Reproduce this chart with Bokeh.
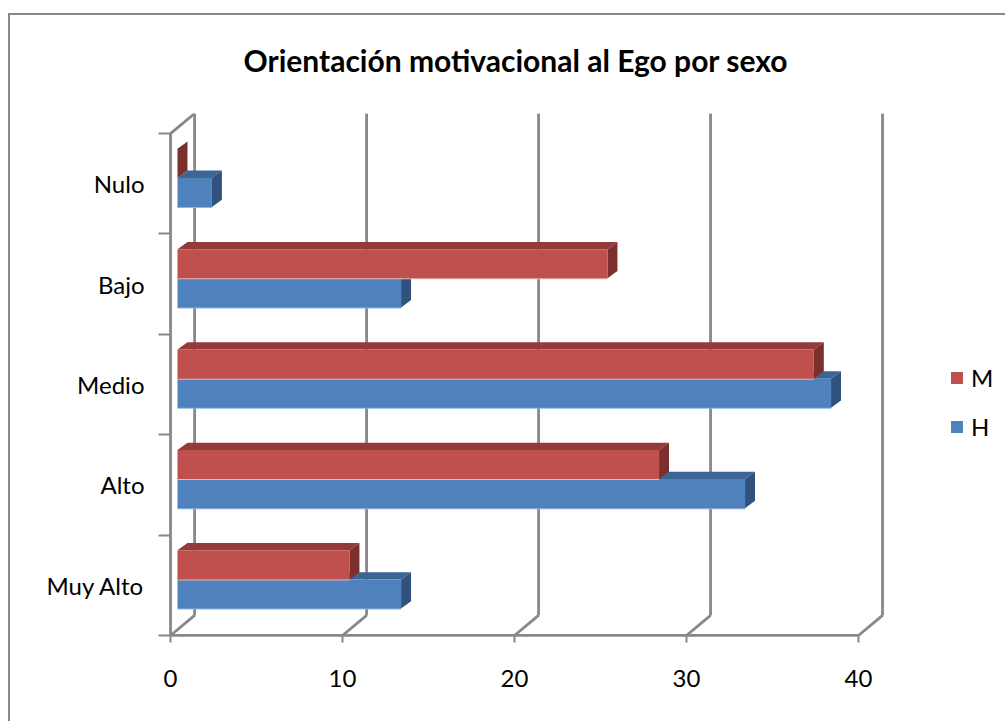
from bokeh.plotting import figure
from bokeh.models import (ColumnDataSource, Range1d, FixedTicker, Legend,
                          LegendItem, InlineStyleSheet)
from bokeh.embed import file_html
from bokeh.resources import INLINE

# ---- data -------------------------------------------------------------
categories = ["Muy Alto", "Alto", "Medio", "Bajo", "Nulo"]
hombres = [13, 33, 38, 13, 2]    # series "H"
mujeres = [10, 28, 37, 25, 0]    # series "M"
x_ticks = [0, 10, 20, 30, 40]
title_text = "Orientación motivacional al Ego  por sexo"

# ---- 3-D look (all in data units) --------------------------------------
DX, DY = 1.4, 0.2        # depth of floor / side wall
F0 = 0.29                # where the bars sit inside that depth
BX, BY = 0.58, 0.073     # thickness of a bar in depth
HALF = 0.29              # height of one bar
# the frame reaches the right edge so the legend can live inside it
X_MIN, X_MAX = -0.35, 48.55
Y_MIN, Y_MAX = -0.07, 5.2

GRID = "#888888"
FONT = "Lato"
LABEL_SIZE = "24px"

p = figure(width=1005, height=721,
           x_range=Range1d(X_MIN, X_MAX), y_range=Range1d(Y_MIN, Y_MAX),
           output_backend="svg", toolbar_location=None,
           min_border_left=164, min_border_right=0,
           min_border_top=113, min_border_bottom=79)
p.outline_line_color = None
p.xgrid.visible = False
p.ygrid.visible = False
p.background_fill_color = "white"
p.border_fill_color = "white"

# chart-area frame line (left and top edges)
p.stylesheets = [InlineStyleSheet(css="""
:host { position: relative; }
:host::after {
  content: ""; position: absolute; left: 8px; top: 13px; right: 0; bottom: 0;
  border-left: 2px solid #888888; border-top: 2px solid #888888;
  pointer-events: none;
}
""")]

# ---- title --------------------------------------------------------------
p.title.text = title_text
p.title.align = "left"
p.title.offset = 243 - 164
p.title.standoff = 71
p.title.text_font = FONT
p.title.text_font_style = "bold"
p.title.text_font_size = "30px"
p.title.text_color = "black"

# ---- axes ---------------------------------------------------------------
xa = p.xaxis[0]
xa.ticker = FixedTicker(ticks=x_ticks, minor_ticks=[])
xa.axis_line_color = None
xa.major_tick_in = 7
xa.major_tick_out = 0
xa.major_tick_line_color = GRID
xa.major_tick_line_width = 2
xa.major_label_standoff = 27
xa.major_label_text_font = FONT
xa.major_label_text_font_size = LABEL_SIZE
xa.major_label_text_color = "black"

n = len(categories)
ya = p.yaxis[0]
centers = [i + 0.5 for i in range(n)]
ya.ticker = FixedTicker(ticks=centers, minor_ticks=list(range(n + 1)))
ya.major_label_overrides = {c: name for c, name in zip(centers, categories)}
ya.axis_line_color = None
ya.major_tick_line_color = None
ya.major_tick_in = 0
ya.major_tick_out = 6
ya.minor_tick_in = 6
ya.minor_tick_out = 6
ya.minor_tick_line_color = GRID
ya.minor_tick_line_width = 2
ya.major_label_standoff = 14
ya.major_label_text_font = FONT
ya.major_label_text_font_size = LABEL_SIZE
ya.major_label_text_color = "black"

# ---- walls, floor and gridlines ----------------------------------------
x0s, y0s, x1s, y1s = [], [], [], []
for t in x_ticks:
    # back wall gridline
    x0s.append(t + DX); y0s.append(DY); x1s.append(t + DX); y1s.append(Y_MAX)
    # floor diagonal
    x0s.append(t); y0s.append(0); x1s.append(t + DX); y1s.append(DY)
# front floor edge, front left edge, top of the side wall
x0s += [0, 0, 0]
y0s += [0, 0, n]
x1s += [x_ticks[-1], 0, DX]
y1s += [0, n, n + DY]
p.segment(x0=x0s, y0=y0s, x1=x1s, y1=y1s, line_color=GRID, line_width=2.8)


# ---- 3-D bars -----------------------------------------------------------
def bar_geometry(values, upper):
    front = dict(left=[], right=[], bottom=[], top=[])
    tops = dict(xs=[], ys=[])
    sides = dict(xs=[], ys=[])
    edge = dict(x0=[], x1=[], y=[])
    for i, v in enumerate(values):
        l = F0 * DX
        r = l + v
        c = i + 0.5 + F0 * DY
        b, t = (c, c + HALF) if upper else (c - HALF, c)
        front["left"].append(l); front["right"].append(r)
        front["bottom"].append(b); front["top"].append(t)
        tops["xs"].append([l, r, r + BX, l + BX])
        tops["ys"].append([t, t, t + BY, t + BY])
        sides["xs"].append([r, r, r + BX, r + BX])
        sides["ys"].append([b, t, t + BY, b + BY])
        edge["x0"].append(l); edge["x1"].append(r); edge["y"].append(b)
    return front, tops, sides, edge


def draw_bars(values, upper, c_front, c_top, c_side, c_edge):
    front, tops, sides, edge = bar_geometry(values, upper)
    p.segment(x0=edge["x0"], y0=edge["y"], x1=edge["x1"], y1=edge["y"],
              line_color=c_edge, line_width=2)
    p.patches(xs=tops["xs"], ys=tops["ys"], fill_color=c_top, line_color=None)
    p.patches(xs=sides["xs"], ys=sides["ys"], fill_color=c_side, line_color=None)
    return p.quad(source=ColumnDataSource(front), left="left", right="right",
                  bottom="bottom", top="top", fill_color=c_front, line_color=None)


h_front = draw_bars(hombres, False, "#4F81BD", "#3D6594", "#30527C", "#8EB4E3")
m_front = draw_bars(mujeres, True, "#C0504D", "#943B39", "#7B302E", "#E6B9B8")

# ---- legend -------------------------------------------------------------
legend = Legend(items=[LegendItem(label="M", renderers=[m_front]),
                       LegendItem(label="H", renderers=[h_front])],
                location=(785, 201), orientation="vertical",
                glyph_width=15, glyph_height=15, label_height=15,
                spacing=20, padding=0, margin=0, label_standoff=7,
                border_line_color=None, background_fill_alpha=0,
                label_text_font=FONT, label_text_font_size=LABEL_SIZE,
                label_text_color="black")
p.add_layout(legend, "center")

open("out.html", "w").write(file_html(p, INLINE))
